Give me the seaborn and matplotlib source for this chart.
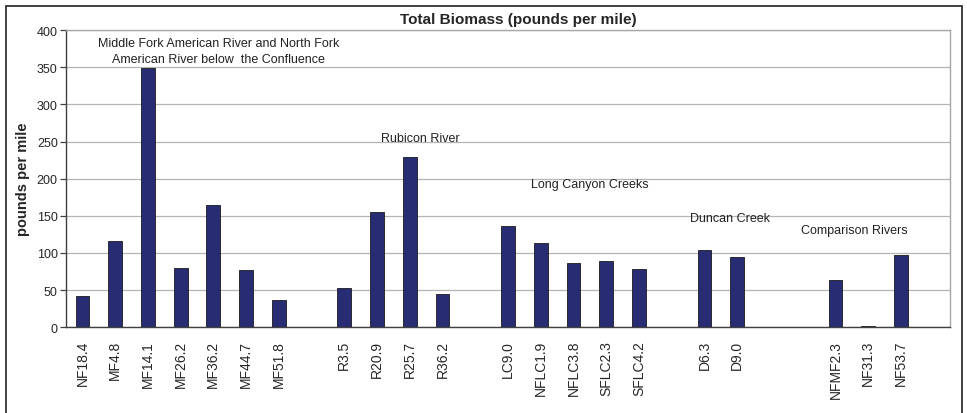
import pandas as pd
import matplotlib.pyplot as plt
import seaborn as sns
from matplotlib.patches import Rectangle

# Data (blank slots separate the river groups)
sites = ['NF18.4', 'MF4.8', 'MF14.1', 'MF26.2', 'MF36.2', 'MF44.7', 'MF51.8', 'gap1',
         'R3.5', 'R20.9', 'R25.7', 'R36.2', 'gap2',
         'LC9.0', 'NFLC1.9', 'NFLC3.8', 'SFLC2.3', 'SFLC4.2', 'gap3',
         'D6.3', 'D9.0', 'gap4', 'gap5',
         'NFMF2.3', 'NF31.3', 'NF53.7', 'gap6']
biomass = [42, 116, 349, 80, 165, 77, 37, None,
           53, 155, 229, 45, None,
           136, 113, 87, 89, 79, None,
           104, 94, None, None,
           63, 2, 97, None]
yticks = [0, 50, 100, 150, 200, 250, 300, 350, 400]

df = pd.DataFrame({'site': sites, 'biomass': biomass}).dropna()

#  Setup
sns.set_theme(style='white')
plt.rcParams['font.family'] = ['Liberation Sans', 'DejaVu Sans']
fig = plt.figure(figsize=(9.67, 4.14), dpi=100)
ax = fig.add_axes([0.0683, 0.207, 0.9141, 0.718])

sns.barplot(x='site', y='biomass', data=df, order=sites, ax=ax,
            color='#282C73', width=0.42, edgecolor='#1a1a1a', linewidth=0.6,
            saturation=1)

ax.set_xlim(-0.5, len(sites) - 0.5)
ax.set_ylim(0, 400)
ax.set_yticks(yticks)
ax.yaxis.grid(True, color='#b4b4b4', linewidth=0.9)
ax.set_axisbelow(True)

labels = ['' if s.startswith('gap') else s for s in sites]
ax.set_xticks(range(len(sites)))
ax.set_xticklabels(labels, rotation=90, fontsize=10)
ax.tick_params(axis='x', which='major', length=0, pad=9)
ax.set_xticks([i - 0.5 for i in range(len(sites) + 1)], minor=True)
ax.tick_params(axis='x', which='minor', length=5, width=0.9, color='#404040', direction='out')
ax.tick_params(axis='y', length=4, width=0.9, color='#404040', labelsize=9, pad=2, left=True)

ax.set_xlabel('')
ax.set_ylabel('pounds per mile', fontsize=10.5, fontweight='bold', labelpad=5)

for side in ['left', 'bottom']:
    ax.spines[side].set_color('#404040')
    ax.spines[side].set_linewidth(1.0)
for side in ['top', 'right']:
    ax.spines[side].set_color('#a8a8a8')
    ax.spines[side].set_linewidth(1.0)

# group annotations
txt = dict(ha='center', va='center', fontsize=9, color='#222222')
ax.text(4.15, 372, 'Middle Fork American River and North Fork\nAmerican River below  the Confluence',
        linespacing=1.45, **txt)
ax.text(10.33, 255, 'Rubicon River', **txt)
ax.text(15.5, 193, 'Long Canyon Creeks', **txt)
ax.text(19.78, 147, 'Duncan Creek', **txt)
ax.text(23.57, 131, 'Comparison Rivers', **txt)

fig.text(0.536, 0.952, 'Total Biomass (pounds per mile)', ha='center', va='center',
         fontsize=11, fontweight='bold')

# outer chart frame
fig.patches.append(Rectangle((6 / 967, -0.05), 956 / 967, 1.05 - 7 / 414,
                             transform=fig.transFigure, fill=False,
                             edgecolor='#333333', linewidth=1.3))

plt.savefig('out.png', dpi=100)
